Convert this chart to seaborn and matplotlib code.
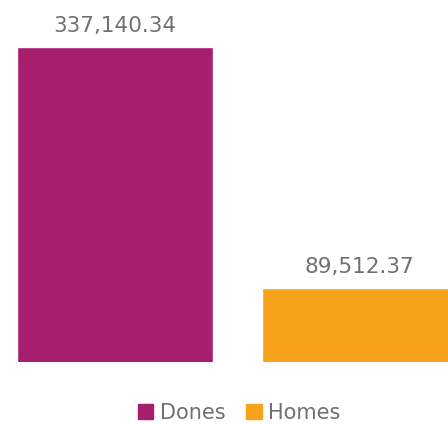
import matplotlib
matplotlib.use("Agg")
import matplotlib.pyplot as plt
import seaborn as sns
import pandas as pd

# Dades
categories = ["Dones", "Homes"]
valors = [337140.34, 89512.37]
etiquetes = ["337,140.34", "89,512.37"]
colors = ["#A51F6E", "#F8A11A"]

sns.set_style("white")
plt.rcParams['font.family'] = ['DejaVu Sans']

df = pd.DataFrame({"sexe": categories, "import": valors})

fig = plt.figure(figsize=(4.48, 4.24), dpi=100)
ax = fig.add_axes([17 / 448, (424 - 362) / 424, (448 - 17) / 448, (362 - 20) / 424])

sns.barplot(data=df, x="sexe", y="import", hue="sexe", palette=colors,
            width=0.8, dodge=False, legend=False, ax=ax, saturation=1)

# Etiquetes de valor
for i, (v, t) in enumerate(zip(valors, etiquetes)):
    ax.text(i, v + 11500, t, ha="center", va="bottom", fontsize=15.5, color="#707070")

ax.set_xlim(-0.4, 1.36)
ax.set_ylim(14000, 364800)
ax.set_xlabel("")
ax.set_ylabel("")
ax.set_xticks([])
ax.set_yticks([])
sns.despine(ax=ax, left=True, bottom=True)

# Llegenda
handles = [plt.Rectangle((0, 0), 1, 1, color=c) for c in colors]
fig.legend(handles, categories, loc="center", bbox_to_anchor=(239 / 448, 1 - 413 / 424),
           ncol=2, frameon=False, fontsize=15, handlelength=0.75, handleheight=0.75,
           handletextpad=0.3, columnspacing=1.0, labelcolor="#707070")

fig.savefig("out.png", dpi=100)
